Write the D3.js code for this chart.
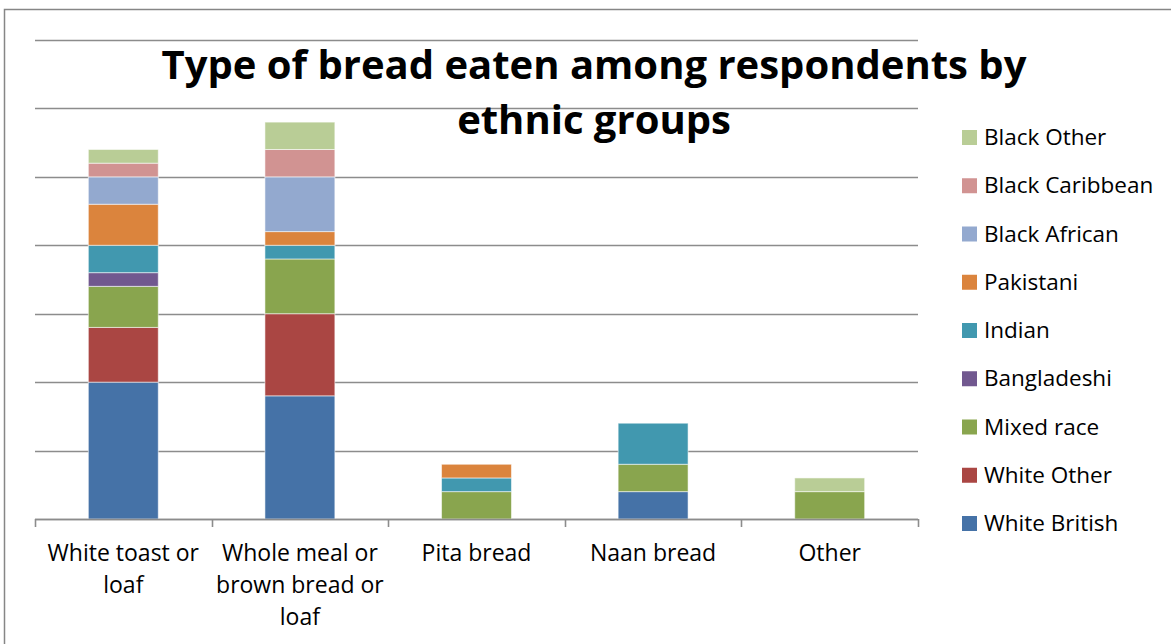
<!DOCTYPE html>
<html>
<head>
<meta charset="utf-8">
<script src="https://cdn.jsdelivr.net/npm/d3@7"></script>
<style>
  body { margin: 0; background: #fff; }
  svg { display: block; font-family: "Open Sans", "Lato", sans-serif; }
</style>
</head>
<body>
<div id="vis-container"></div>
<script>
// data (counts of respondents)
const categories = [
  "White toast or loaf",
  "Whole meal or brown bread or loaf",
  "Pita bread",
  "Naan bread",
  "Other"
];
const labelLines = [
  ["White toast or", "loaf"],
  ["Whole meal or", "brown bread or", "loaf"],
  ["Pita bread"],
  ["Naan bread"],
  ["Other"]
];
const groups = [
  "White British", "White Other", "Mixed race", "Bangladeshi", "Indian",
  "Pakistani", "Black African", "Black Caribbean", "Black Other"
];
const whiteBritish   = [10, 9, 0, 2, 0];
const whiteOther     = [4, 6, 0, 0, 0];
const mixedRace      = [3, 4, 2, 2, 2];
const bangladeshi    = [1, 0, 0, 0, 0];
const indian         = [2, 1, 1, 3, 0];
const pakistani      = [3, 1, 1, 0, 0];
const blackAfrican   = [2, 4, 0, 0, 0];
const blackCaribbean = [1, 2, 0, 0, 0];
const blackOther     = [1, 2, 0, 0, 1];
const yTicks = [0, 5, 10, 15, 20, 25, 30, 35];
const colors = ["#4572A7", "#AA4643", "#89A54E", "#71588F", "#4198AF",
                "#DB843D", "#93A9CF", "#D19392", "#B9CD96"];

const seriesValues = [whiteBritish, whiteOther, mixedRace, bangladeshi, indian,
                      pakistani, blackAfrican, blackCaribbean, blackOther];

// build rows for d3.stack
const rows = categories.map((c, i) => {
  const r = { category: c };
  groups.forEach((g, j) => { r[g] = seriesValues[j][i]; });
  return r;
});

const W = 1171, H = 644;
const plot = { left: 35, right: 918, top: 40, bottom: 519 };

const svg = d3.select("#vis-container")
  .append("svg")
  .attr("width", W)
  .attr("height", H);

// chart border
svg.append("rect")
  .attr("x", 4.5).attr("y", 9.5)
  .attr("width", W + 10).attr("height", H + 10)
  .attr("fill", "none")
  .attr("stroke", "#868686")
  .attr("stroke-width", 1.5);

const x = d3.scaleBand()
  .domain(categories)
  .range([plot.left, plot.right])
  .paddingInner(0.604)
  .paddingOuter(0.302);

const y = d3.scaleLinear()
  .domain([0, 35])
  .range([plot.bottom, plot.top]);

const color = d3.scaleOrdinal().domain(groups).range(colors);

// gridlines
svg.append("g")
  .selectAll("line")
  .data(yTicks)
  .enter()
  .append("line")
  .attr("x1", plot.left)
  .attr("x2", plot.right)
  .attr("y1", (d) => Math.round(y(d)) + 0.5)
  .attr("y2", (d) => Math.round(y(d)) + 0.5)
  .attr("stroke", "#8c8c8c")
  .attr("stroke-width", 1.6);

// stacked bars
const stacked = d3.stack().keys(groups)(rows);

svg.append("g")
  .selectAll("g")
  .data(stacked)
  .enter()
  .append("g")
  .attr("fill", (d) => color(d.key))
  .selectAll("rect")
  .data((d) => d.filter((p) => p[1] > p[0]))
  .enter()
  .append("rect")
  .attr("x", (d) => x(d.data.category))
  .attr("y", (d) => y(d[1]))
  .attr("width", x.bandwidth())
  .attr("height", (d) => y(d[0]) - y(d[1]))
  .attr("stroke", "rgba(255,255,255,0.55)")
  .attr("stroke-width", 1);

// x axis ticks at category boundaries
const step = x.step();
const boundaries = categories.map((c) => x(c) - (step - x.bandwidth()) / 2);
boundaries.push(plot.right);

svg.append("g")
  .selectAll("line")
  .data(boundaries)
  .enter()
  .append("line")
  .attr("x1", (d) => Math.round(d) + 0.5)
  .attr("x2", (d) => Math.round(d) + 0.5)
  .attr("y1", plot.bottom)
  .attr("y2", plot.bottom + 8)
  .attr("stroke", "#8c8c8c")
  .attr("stroke-width", 1.6);

// baseline drawn again on top of bars
svg.append("line")
  .attr("x1", plot.left).attr("x2", plot.right)
  .attr("y1", plot.bottom + 0.5).attr("y2", plot.bottom + 0.5)
  .attr("stroke", "#8c8c8c")
  .attr("stroke-width", 1.6);

// category labels
const labels = svg.append("g")
  .selectAll("text")
  .data(categories)
  .enter()
  .append("text")
  .attr("text-anchor", "middle")
  .attr("font-size", 23)
  .attr("fill", "#000");

labels.selectAll("tspan")
  .data((d, i) => labelLines[i].map((t) => ({ t: t, c: d })))
  .enter()
  .append("tspan")
  .attr("x", (d) => x(d.c) + x.bandwidth() / 2)
  .attr("y", (d, i) => 561 + i * 32)
  .text((d) => d.t);

// title
const title = svg.append("text")
  .attr("text-anchor", "middle")
  .attr("font-size", 40)
  .attr("font-weight", "bold")
  .attr("fill", "#000");
title.append("tspan").attr("x", 594).attr("y", 79)
  .text("Type of bread eaten among respondents by");
title.append("tspan").attr("x", 594).attr("y", 134)
  .text("ethnic groups");

// legend (top item is the last series)
const legendItems = groups.slice().reverse();
const legend = svg.append("g")
  .selectAll("g")
  .data(legendItems)
  .enter()
  .append("g")
  .attr("transform", (d, i) => "translate(962," + (137 + i * 48.25) + ")");

legend.append("rect")
  .attr("x", 0).attr("y", -7)
  .attr("width", 15).attr("height", 15)
  .attr("fill", (d) => color(d));

legend.append("text")
  .attr("x", 22)
  .attr("y", 8)
  .attr("font-size", 22.5)
  .attr("fill", "#000")
  .text((d) => d);
</script>
</body>
</html>
